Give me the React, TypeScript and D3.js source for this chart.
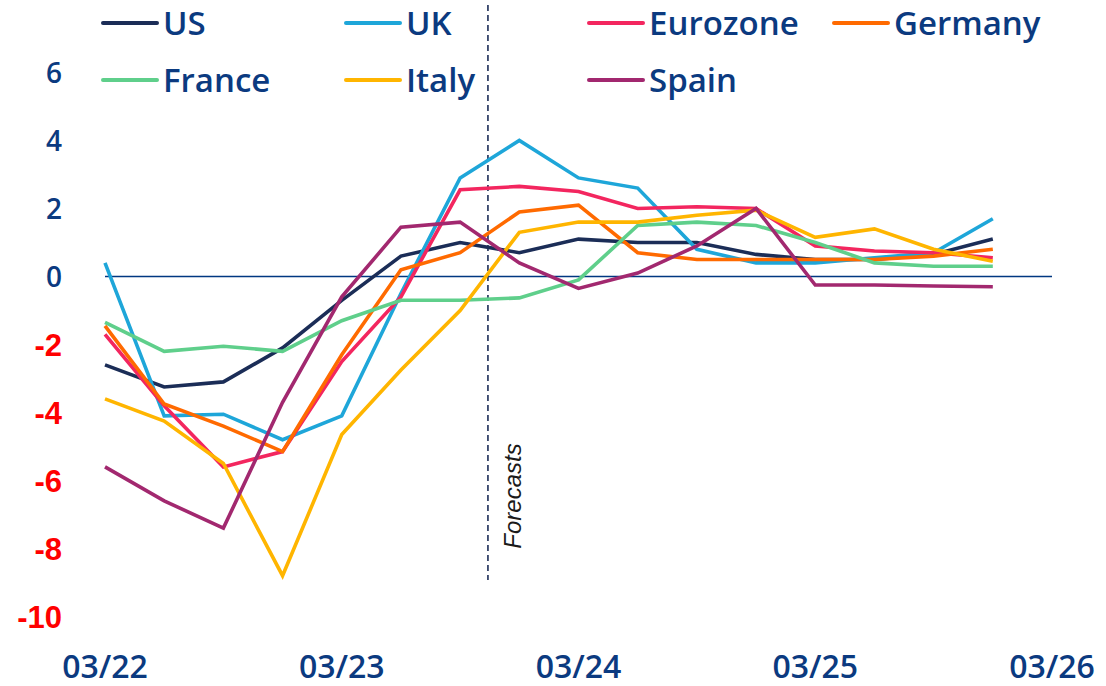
import * as d3 from "d3";

// quarterly GDP growth, % y/y (03/22 .. 12/25)
const quarters = [
  "03/22", "06/22", "09/22", "12/22",
  "03/23", "06/23", "09/23", "12/23",
  "03/24", "06/24", "09/24", "12/24",
  "03/25", "06/25", "09/25", "12/25",
];
const xTickLabels = ["03/22", "03/23", "03/24", "03/25", "03/26"];
const yTicks = [6, 4, 2, 0, -2, -4, -6, -8, -10];

const us = [-2.6, -3.25, -3.1, -2.1, -0.7, 0.6, 1.0, 0.7, 1.1, 1.0, 1.0, 0.65, 0.5, 0.5, 0.65, 1.1];
const uk = [0.4, -4.1, -4.05, -4.8, -4.1, -0.5, 2.9, 4.0, 2.9, 2.6, 0.8, 0.4, 0.4, 0.55, 0.7, 1.7];
const eurozone = [-1.7, -3.8, -5.6, -5.15, -2.5, -0.6, 2.55, 2.65, 2.5, 2.0, 2.05, 2.0, 0.9, 0.75, 0.7, 0.55];
const germany = [-1.45, -3.75, -4.4, -5.15, -2.3, 0.2, 0.7, 1.9, 2.1, 0.7, 0.5, 0.5, 0.5, 0.5, 0.6, 0.8];
const france = [-1.35, -2.2, -2.05, -2.2, -1.3, -0.7, -0.7, -0.63, -0.1, 1.5, 1.6, 1.5, 1.0, 0.4, 0.3, 0.3];
const italy = [-3.6, -4.25, -5.5, -8.8, -4.65, -2.75, -1.0, 1.3, 1.6, 1.6, 1.8, 1.95, 1.15, 1.4, 0.8, 0.45];
const spain = [-5.6, -6.6, -7.4, -3.7, -0.6, 1.45, 1.6, 0.4, -0.35, 0.1, 0.9, 2.0, -0.25, -0.25, -0.28, -0.3];

// forecasts start between 09/23 and 12/23 (quarter index)
const forecastStart = 6.47;

const series = [
  { name: "US", values: us, color: "#1b2d57" },
  { name: "UK", values: uk, color: "#1ea6d9" },
  { name: "Eurozone", values: eurozone, color: "#f3265f" },
  { name: "Germany", values: germany, color: "#ff6a00" },
  { name: "France", values: france, color: "#5fcf8b" },
  { name: "Italy", values: italy, color: "#ffb500" },
  { name: "Spain", values: spain, color: "#a2286f" },
];

// legend grid: row 1 US, UK, Eurozone, Germany ; row 2 France, Italy, Spain
const legendRows = [
  ["US", "UK", "Eurozone", "Germany"],
  ["France", "Italy", "Spain"],
];

const W = 1106;
const H = 686;
const textBlue = "#0b3a80";
const font = "'Open Sans', sans-serif";

const App = () => {
  const x = d3.scaleLinear().domain([0, quarters.length]).range([105, 1052]);
  const y = d3.scaleLinear().domain([-10, 6]).range([616.5, 72.5]);

  const line = d3
    .line<number>()
    .x((_, i) => x(i))
    .y((d) => y(d));

  const legendX = [103, 346, 589, 834];
  const legendY = [23, 80];

  return (
    <svg
      width={W}
      height={H}
      style={{ position: "absolute", left: 0, top: 0, background: "#fff" }}
    >
      {/* y tick labels */}
      {yTicks.map((t) =>
        t >= 0 ? (
          <text
            key={t}
            x={62}
            y={y(t)}
            dy="0.36em"
            textAnchor="end"
            fontFamily={font}
            fontWeight={600}
            fontSize={28}
            fill={textBlue}
          >
            {t}
          </text>
        ) : (
          <text
            key={t}
            x={62}
            y={y(t)}
            dy="0.36em"
            textAnchor="end"
            fontFamily="'Liberation Sans', Arial, sans-serif"
            fontWeight={700}
            fontSize={31}
            fill="#ff0000"
          >
            {t}
          </text>
        )
      )}

      {/* x tick labels */}
      {xTickLabels.map((lab, i) => (
        <text
          key={lab}
          x={x(i * 4)}
          y={678}
          textAnchor="middle"
          fontFamily={font}
          fontWeight={600}
          fontSize={32}
          fill={textBlue}
        >
          {lab}
        </text>
      ))}

      {/* zero line */}
      <line
        x1={x(0)}
        x2={x(quarters.length)}
        y1={y(0)}
        y2={y(0)}
        stroke="#003781"
        strokeWidth={1.5}
      />

      {/* forecast marker */}
      <line
        x1={x(forecastStart)}
        x2={x(forecastStart)}
        y1={5}
        y2={580}
        stroke="#1b2d57"
        strokeWidth={1.6}
        strokeDasharray="6,4"
      />
      <text
        transform={`translate(${x(forecastStart) + 33},496) rotate(-90)`}
        textAnchor="middle"
        fontFamily="'Liberation Sans', Arial, sans-serif"
        fontStyle="italic"
        fontSize={24}
        fill="#1a1a1a"
      >
        Forecasts
      </text>

      {/* series */}
      {series.map((s) => (
        <path
          key={s.name}
          d={line(s.values) ?? ""}
          fill="none"
          stroke={s.color}
          strokeWidth={3.6}
          strokeLinejoin="miter"
        />
      ))}

      {/* legend */}
      {legendRows.map((row, r) =>
        row.map((name, c) => {
          const s = series.find((d) => d.name === name)!;
          return (
            <g key={name} transform={`translate(${legendX[c]},${legendY[r]})`}>
              <line x1={0} x2={54} y1={0} y2={0} stroke={s.color} strokeWidth={4} strokeLinecap="round" />
              <text
                x={60}
                y={0}
                dy="0.36em"
                fontFamily={font}
                fontWeight={600}
                fontSize={33}
                fill={textBlue}
              >
                {name}
              </text>
            </g>
          );
        })
      )}
    </svg>
  );
};

export default App;
